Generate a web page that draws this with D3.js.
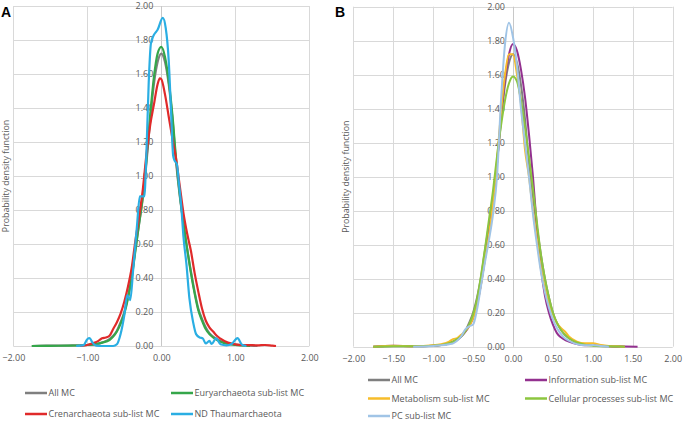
<!DOCTYPE html>
<html>
<head>
<meta charset="utf-8">
<script src="https://cdn.jsdelivr.net/npm/d3@7"></script>
<style>
  html, body { margin: 0; padding: 0; background: #fff; }
  svg { display: block; }
  text { font-family: "Open Sans", "Liberation Sans", sans-serif; }
</style>
</head>
<body>
<svg id="chart" width="683" height="421"></svg>
<script>
// ---------- DATA ----------
const xTicksA = [-2, -1, 0, 1, 2];
const xTicksB = [-2, -1.5, -1, -0.5, 0, 0.5, 1, 1.5, 2];
const yTicks = [0, 0.2, 0.4, 0.6, 0.8, 1.0, 1.2, 1.4, 1.6, 1.8, 2.0];

// Panel A
const allMcA_x = [-1.75,-1.5,-1.25,-1.0,-0.9,-0.8,-0.7,-0.65,-0.6,-0.55,-0.5,-0.45,-0.4,-0.35,-0.3,-0.25,-0.2,-0.15,-0.1,-0.05,0,0.05,0.1,0.15,0.2,0.25,0.3,0.35,0.4,0.45,0.5,0.55,0.6,0.65,0.7,0.8,0.9,1.0,1.1,1.2,1.3];
const allMcA_y = [0,0.002,0.003,0.006,0.01,0.02,0.04,0.06,0.09,0.14,0.2,0.29,0.41,0.57,0.72,0.87,1.08,1.33,1.54,1.67,1.72,1.67,1.54,1.34,1.08,0.88,0.72,0.57,0.44,0.32,0.22,0.16,0.11,0.075,0.055,0.03,0.015,0.008,0.004,0.002,0];
const euryA_x = [-1.75,-1.5,-1.25,-1.0,-0.9,-0.8,-0.7,-0.65,-0.6,-0.55,-0.5,-0.45,-0.4,-0.35,-0.3,-0.25,-0.2,-0.15,-0.1,-0.05,0,0.05,0.1,0.15,0.2,0.25,0.3,0.35,0.4,0.45,0.5,0.55,0.6,0.65,0.7,0.8,0.9,1.0,1.1,1.2];
const euryA_y = [0,0.001,0.002,0.006,0.01,0.02,0.035,0.055,0.085,0.13,0.19,0.28,0.4,0.56,0.72,0.88,1.1,1.36,1.58,1.72,1.76,1.7,1.56,1.36,1.1,0.89,0.72,0.57,0.43,0.31,0.21,0.15,0.1,0.07,0.05,0.025,0.012,0.006,0.003,0];
const crenA_x = [-1.1,-1.0,-0.9,-0.85,-0.8,-0.75,-0.7,-0.65,-0.6,-0.55,-0.5,-0.45,-0.4,-0.35,-0.3,-0.25,-0.2,-0.15,-0.1,-0.05,-0.02,0,0.05,0.1,0.15,0.2,0.25,0.3,0.35,0.4,0.45,0.5,0.55,0.6,0.65,0.7,0.75,0.8,0.9,1.0,1.1,1.2,1.3,1.4,1.5,1.55];
const crenA_y = [0,0.006,0.02,0.03,0.045,0.05,0.06,0.1,0.14,0.19,0.26,0.35,0.46,0.62,0.76,0.92,1.13,1.3,1.42,1.54,1.575,1.57,1.48,1.35,1.22,1.1,0.94,0.78,0.66,0.56,0.43,0.32,0.22,0.15,0.11,0.085,0.06,0.043,0.02,0.01,0.006,0.005,0.004,0.006,0.002,0];
const thaumA_x = [-1.15,-1.05,-1.0,-0.97,-0.93,-0.88,-0.8,-0.65,-0.6,-0.55,-0.5,-0.46,-0.42,-0.38,-0.33,-0.29,-0.23,-0.2,-0.17,-0.14,-0.1,-0.05,0.02,0.06,0.1,0.13,0.16,0.18,0.21,0.24,0.27,0.3,0.34,0.38,0.43,0.47,0.52,0.56,0.6,0.65,0.68,0.74,0.8,0.88,0.95,1.03,1.09,1.15];
const thaumA_y = [0,0.005,0.04,0.047,0.02,0.002,0,0,0.01,0.07,0.18,0.3,0.27,0.45,0.7,0.88,0.88,1.15,1.55,1.78,1.83,1.86,1.93,1.87,1.68,1.4,1.12,1.09,1.07,0.95,0.82,0.64,0.48,0.28,0.14,0.07,0.05,0.045,0.015,0.03,0.012,0.045,0.01,0.004,0.012,0.046,0.008,0];

// Panel B
const xsB = [-1.75,-1.5,-1.25,-1.0,-0.9,-0.8,-0.75,-0.7,-0.65,-0.6,-0.55,-0.5,-0.45,-0.4,-0.35,-0.3,-0.25,-0.2,-0.15,-0.1,-0.05,0,0.05,0.1,0.15,0.2,0.25,0.3,0.35,0.4,0.45,0.5,0.55,0.6,0.65,0.7,0.8,0.9,1.0,1.1,1.2,1.3,1.4,1.56];
const allMcB_y = [0,0.002,0.003,0.006,0.01,0.02,0.03,0.04,0.06,0.09,0.14,0.2,0.29,0.41,0.57,0.72,0.87,1.08,1.33,1.54,1.67,1.72,1.67,1.54,1.34,1.08,0.88,0.7,0.54,0.4,0.29,0.2,0.14,0.1,0.07,0.05,0.025,0.012,0.008,0.004,0.002,0.001,0,null];
const infoB_y = [0,0.006,0.002,0.006,0.01,0.02,0.03,0.04,0.06,0.085,0.12,0.17,0.25,0.37,0.52,0.68,0.85,1.08,1.35,1.57,1.72,1.78,1.74,1.63,1.47,1.25,1.0,0.7,0.46,0.3,0.2,0.13,0.08,0.055,0.04,0.03,0.015,0.008,0.012,0.005,0.002,0.001,0.001,0];
const metaB_y = [0,0.006,0.002,0.008,0.015,0.03,0.045,0.05,0.07,0.09,0.12,0.17,0.25,0.37,0.52,0.66,0.85,1.1,1.38,1.6,1.72,1.72,1.6,1.43,1.16,1.0,0.8,0.63,0.46,0.34,0.25,0.19,0.14,0.11,0.09,0.06,0.03,0.02,0.02,0.01,0.004,0.002,0,null];
const cellB_y = [0,0.003,0.002,0.006,0.01,0.02,0.03,0.045,0.06,0.09,0.13,0.19,0.28,0.42,0.58,0.75,0.92,1.12,1.3,1.45,1.55,1.59,1.56,1.45,1.29,1.12,0.93,0.73,0.54,0.4,0.29,0.2,0.14,0.1,0.07,0.05,0.025,0.012,0.006,0.003,0.002,0.001,0,null];
const pcB_y = [null,null,0,0.004,0.008,0.015,0.02,0.035,0.06,0.1,0.12,0.13,0.22,0.36,0.5,0.63,0.78,1.0,1.45,1.78,1.906,1.82,1.65,1.4,1.2,1.0,0.78,0.6,0.44,0.32,0.23,0.16,0.11,0.075,0.05,0.035,0.015,0.008,0.01,0.004,0,null,null,null];

const namesA = ["All MC", "Euryarchaeota sub-list MC", "Crenarchaeota sub-list MC", "ND Thaumarchaeota"];
const colorsA = ["#7f7f7f", "#35a64a", "#e02a2a", "#2aaee3"];
const namesB = ["All MC", "Information sub-list MC", "Metabolism sub-list MC", "Cellular processes sub-list MC", "PC sub-list MC"];
const colorsB = ["#7f7f7f", "#93318f", "#f7bd2a", "#8cc63f", "#a0c4e6"];

// ---------- DRAW ----------
const svg = d3.select("#chart");
const fmt = d3.format(".2f");

function zip(xs, ys) {
  return xs.map((x, i) => [x, ys[i]]).filter(d => d[1] !== null && d[1] !== undefined);
}

function panel(cfg) {
  const x = d3.scaleLinear().domain([-2, 2]).range([cfg.left, cfg.right]);
  const y = d3.scaleLinear().domain([0, 2]).range([cfg.bottom, cfg.top]);
  const g = svg.append("g");

  // gridlines
  g.selectAll("line.hg").data(yTicks).join("line")
    .attr("x1", cfg.left).attr("x2", cfg.right)
    .attr("y1", d => Math.round(y(d)) + 0.5).attr("y2", d => Math.round(y(d)) + 0.5)
    .attr("stroke", "#d9d9d9").attr("stroke-width", 1);
  g.selectAll("line.vg").data(cfg.xTicks).join("line")
    .attr("x1", d => Math.round(x(d)) + 0.5).attr("x2", d => Math.round(x(d)) + 0.5)
    .attr("y1", cfg.top).attr("y2", cfg.bottom)
    .attr("stroke", d => d === 0 ? "#c8c8c8" : "#d9d9d9").attr("stroke-width", 1);

  // x axis labels
  const xa = d3.axisBottom(x).tickValues(cfg.xTicks).tickFormat(fmt).tickSize(0).tickPadding(9);
  const gx = g.append("g").attr("transform", `translate(0,${cfg.bottom})`).call(xa);
  gx.select(".domain").remove();
  gx.selectAll("text").attr("fill", "#595959").style("font-size", "9px").style("font-family", "'Open Sans', sans-serif");

  // y axis labels at x=0
  const ya = d3.axisLeft(y).tickValues(yTicks).tickFormat(fmt).tickSize(0).tickPadding(8);
  const gy = g.append("g").attr("transform", `translate(${x(0)},0)`).call(ya);
  gy.select(".domain").remove();
  gy.selectAll("text").attr("fill", "#595959").style("font-size", "9px").style("font-family", "'Open Sans', sans-serif");

  // axis title
  g.append("text")
    .attr("transform", `translate(${cfg.titleX},${(cfg.top + cfg.bottom) / 2}) rotate(-90)`)
    .attr("text-anchor", "middle").attr("dy", "0.35em")
    .attr("fill", "#595959").style("font-size", "8.8px")
    .text("Probability density function");

  // panel letter
  svg.append("text").attr("x", cfg.letterX).attr("y", 17)
    .style("font-family", "'Liberation Sans', Arial, sans-serif")
    .style("font-weight", "bold").style("font-size", "14px").attr("fill", "#000")
    .text(cfg.letter);

  // lines
  const line = d3.line().x(d => x(d[0])).y(d => y(d[1])).curve(d3.curveMonotoneX);
  cfg.series.forEach((s, i) => {
    g.append("path").datum(s).attr("d", line)
      .attr("fill", "none").attr("stroke", cfg.colors[i])
      .attr("stroke-width", cfg.lineWidth).attr("stroke-linejoin", "round");
  });

  // legend
  cfg.names.forEach((n, i) => {
    const p = cfg.legendPos[i];
    svg.append("line").attr("x1", p[0]).attr("x2", p[0] + cfg.legendLen)
      .attr("y1", p[1]).attr("y2", p[1])
      .attr("stroke", cfg.colors[i]).attr("stroke-width", 2.5);
    svg.append("text").attr("x", p[0] + cfg.legendLen + 1.5).attr("y", p[1]).attr("dy", "0.35em")
      .attr("fill", "#595959").style("font-size", "9px").text(n);
  });
}

panel({
  left: 13.3, right: 309.3, top: 6, bottom: 346,
  xTicks: xTicksA, titleX: 6, letter: "A", letterX: 1,
  series: [zip(allMcA_x, allMcA_y), zip(euryA_x, euryA_y), zip(crenA_x, crenA_y), zip(thaumA_x, thaumA_y)],
  colors: colorsA, names: namesA, lineWidth: 2.2,
  legendLen: 22,
  legendPos: [[25, 393], [171, 393], [25, 414], [171, 414]]
});

panel({
  left: 353.3, right: 672.7, top: 6.7, bottom: 346.7,
  xTicks: xTicksB, titleX: 346, letter: "B", letterX: 335,
  series: [zip(xsB, allMcB_y), zip(xsB, infoB_y), zip(xsB, metaB_y), zip(xsB, cellB_y), zip(xsB, pcB_y)],
  colors: colorsB, names: namesB, lineWidth: 2,
  legendLen: 22,
  legendPos: [[368, 380], [525, 380], [368, 398.5], [525, 398.5], [368, 416]]
});
</script>
</body>
</html>
